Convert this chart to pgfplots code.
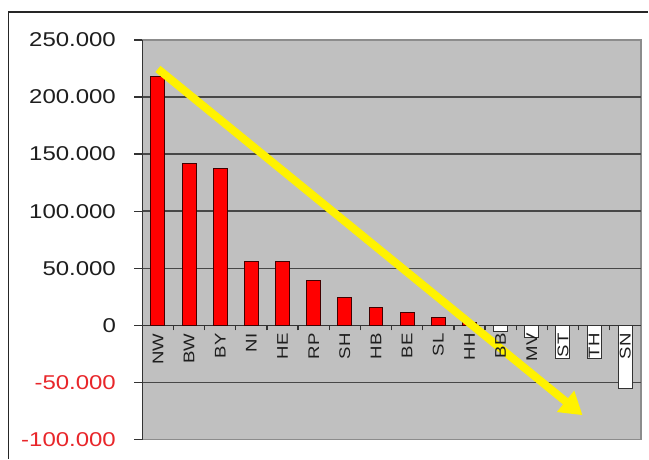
\documentclass[border=0pt]{standalone}
\usepackage{pgfplots}
\pgfplotsset{compat=1.18}
\usetikzlibrary{arrows.meta}
\usepackage{fontspec}
\setmainfont{Liberation Sans}[FakeStretch=1.2]
\definecolor{plotgray}{HTML}{C0C0C0}
\definecolor{bordergray}{HTML}{8C8C8C}
\definecolor{txt}{HTML}{1E1E1E}
\definecolor{negred}{HTML}{E8262A}
\definecolor{barred}{HTML}{FF0000}
\newcommand\yfont{\fontsize{20}{24}\selectfont}
\newcommand\xfont{\fontsize{15.5}{18}\selectfont}
\begin{document}
\begin{tikzpicture}
\path (0,0) rectangle (649pt,459pt);
\draw[line width=1.4pt, black!85] (8.3pt,0) -- (8.3pt,447pt) -- (649pt,447pt);
\begin{axis}[
  at={(142.5pt,19pt)}, anchor=south west,
  scale only axis, width=499pt, height=400pt,
  xmin=-0.5, xmax=15.5, ymin=-100, ymax=250,
  axis x line*=middle, axis y line*=left,
  x axis line style={-, black!80, line width=1.4pt},
  y axis line style={-, black!80, line width=1.4pt},
  axis background/.style={fill=plotgray, draw=bordergray, line width=1.6pt},
  xtick={0,...,15},
  xticklabels={},
  minor xtick={0.5,1.5,...,14.5},
  major x tick style={draw=none},
  ytick={-100,-50,...,250},
  yticklabels={\textcolor{negred}{-100.000},\textcolor{negred}{-50.000},0,50.000,100.000,150.000,200.000,250.000},
  minor ytick={-50,0,...,200},
  yminorgrids, minor grid style={black!72, line width=1.4pt},
  tick align=outside,
  major tick length=8pt, minor tick length=5pt,
  tick style={black!80, line width=1.3pt},
  yticklabel style={font=\yfont, text=txt, xshift=-15pt},
]
\addplot[ybar, bar shift=0pt, bar width=14pt, fill=barred, draw=black!75!red, line width=1pt]
  coordinates {(0,218)(1,142)(2,137)(3,56)(4,56)(5,39)(6,24.3)(7,15.6)(8,11.6)(9,7.3)(10,2.4)};
\addplot[ybar, bar shift=0pt, bar width=14pt, fill=white, draw=black!80, line width=1pt]
  coordinates {(11,-5.3)(12,-10.5)(13,-29)(14,-29)(15,-55)};
\addplot[draw=none, mark=none, nodes near coords, point meta=explicit symbolic,
  every node near coord/.style={rotate=90, anchor=east, font=\xfont, text=txt, inner xsep=8pt, inner ysep=0pt}]
  coordinates {(0,0)[NW] (1,0)[BW] (2,0)[BY] (3,0)[NI] (4,0)[HE] (5,0)[RP] (6,0)[SH] (7,0)[HB]
    (8,0)[BE] (9,0)[SL] (10,0)[HH] (11,0)[BB] (12,0)[MV] (13,0)[ST] (14,0)[TH] (15,0)[SN]};
\addplot[color=yellow, line width=8pt, -{Triangle[width=26pt,length=22pt]}]
  coordinates {(0,224.6)(13.63,-78.7)};
\end{axis}
\end{tikzpicture}
\end{document}
